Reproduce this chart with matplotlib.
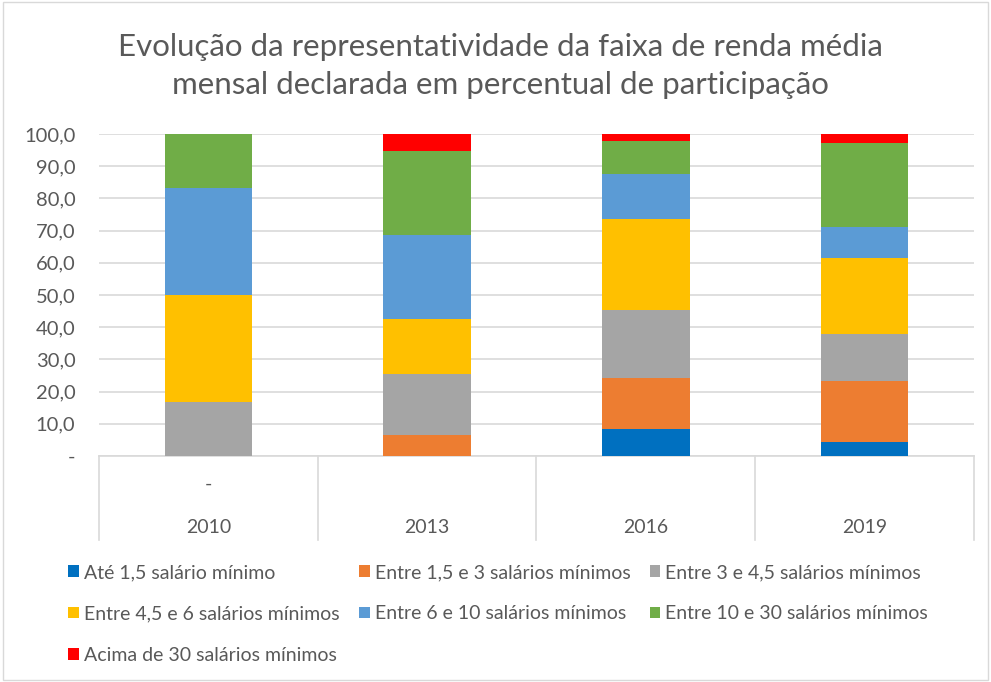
import matplotlib
matplotlib.use("Agg")
import matplotlib.pyplot as plt
import matplotlib.transforms as mtransforms
from matplotlib.patches import Rectangle, Patch
from matplotlib.ticker import FuncFormatter
import numpy as np

plt.rcParams['font.family'] = ['Lato', 'DejaVu Sans']

#data
anos = ['2010', '2013', '2016', '2019']
faixas = ['Até 1,5 salário mínimo',
          'Entre 1,5 e 3 salários mínimos',
          'Entre 3 e 4,5 salários mínimos',
          'Entre 4,5 e 6 salários mínimos',
          'Entre 6 e 10 salários mínimos',
          'Entre 10 e 30 salários mínimos',
          'Acima de 30 salários mínimos']
ate_1_5 = [0, 0, 8.3, 4.4]
de_1_5_a_3 = [0, 6.4, 15.8, 19.0]
de_3_a_4_5 = [16.7, 19.1, 21.3, 14.5]
de_4_5_a_6 = [33.3, 16.9, 28.1, 23.7]
de_6_a_10 = [33.3, 26.2, 14.0, 9.6]
de_10_a_30 = [16.7, 26.0, 10.4, 26.0]
acima_30 = [0, 5.4, 2.1, 2.8]

cores = ['#0070C0', '#ED7D31', '#A5A5A5', '#FFC000', '#5B9BD5', '#70AD47', '#FF0000']
series = [ate_1_5, de_1_5_a_3, de_3_a_4_5, de_4_5_a_6, de_6_a_10, de_10_a_30, acima_30]

fig = plt.figure(figsize=(9.91, 6.82), dpi=100)
ax = fig.add_axes([0.0999, 0.3314, 0.8829, 0.4721])

x = np.arange(len(anos))
base = np.zeros(len(anos))
for vals, cor in zip(series, cores):
    ax.bar(x, vals, width=0.4, bottom=base, color=cor, zorder=3)
    base += np.array(vals)

ax.set_xlim(-0.5, len(anos) - 0.5)
ax.set_ylim(0, 100)
ax.set_yticks(np.arange(0, 101, 10))
ax.yaxis.set_major_formatter(FuncFormatter(lambda v, p: '-' if v == 0 else f'{v:.1f}'.replace('.', ',')))
ax.tick_params(axis='y', length=0, labelsize=14.5, labelcolor='#595959', pad=17)
ax.set_xticks([])
ax.grid(axis='y', color='#D9D9D9', linewidth=1.2, zorder=0)
for s in ['left', 'right', 'top']:
    ax.spines[s].set_visible(False)
ax.spines['bottom'].set_color('#D9D9D9')
ax.spines['bottom'].set_linewidth(1.2)

#two-level category axis drawn by hand
trans = mtransforms.blended_transform_factory(ax.transData, ax.transAxes)
for b in np.arange(-0.5, len(anos), 1.0):
    ax.plot([b, b], [0, -0.262], transform=trans, color='#D9D9D9', lw=1.2, clip_on=False)
ax.text(0, -0.087, '-', transform=trans, ha='center', va='center', fontsize=14, color='#595959')
for i, ano in enumerate(anos):
    ax.text(i, -0.221, ano, transform=trans, ha='center', va='center', fontsize=14, color='#595959')

fig.text(0.505, 0.903, 'Evolução da representatividade da faixa de renda média\nmensal declarada em percentual de participação',
         ha='center', va='center', fontsize=22.5, color='#595959', linespacing=1.42)

handles = [Patch(facecolor=c) for c in cores]
ordem = [0, 3, 6, 1, 4, 2, 5]
fig.legend([handles[i] for i in ordem], [faixas[i] for i in ordem], ncol=3,
           loc='upper left', bbox_to_anchor=(0.069, 0.173),
           frameon=False, fontsize=14, labelcolor='#595959',
           handlelength=0.55, handleheight=0.55, handletextpad=0.25,
           columnspacing=1.0, labelspacing=1.25, borderpad=0, borderaxespad=0)

fig.patches.append(Rectangle((0.003, 0.003), 0.994, 0.994, transform=fig.transFigure,
                             fill=False, edgecolor='#D9D9D9', lw=1))

fig.savefig('out.png', dpi=100)
